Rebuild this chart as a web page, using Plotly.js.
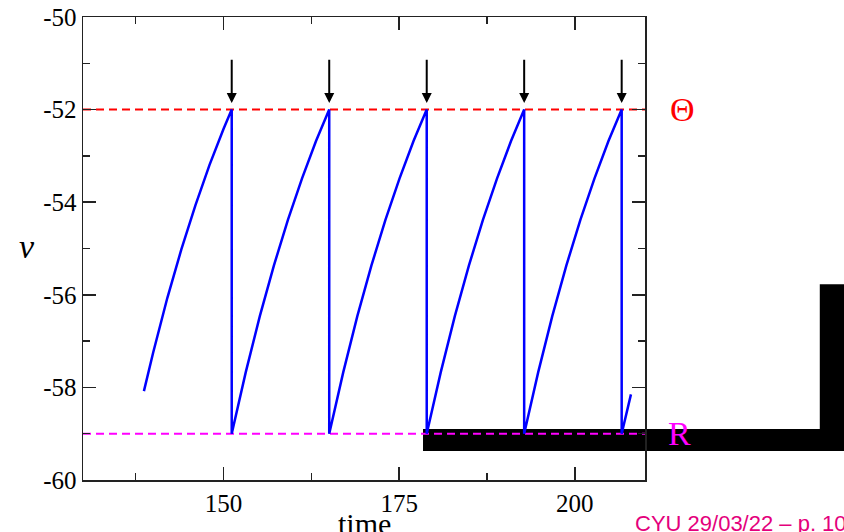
<!DOCTYPE html>
<html>
<head>
<meta charset="utf-8">
<script src="https://cdn.plot.ly/plotly-3.0.1.min.js"></script>
<style>html,body{margin:0;padding:0;background:#fff;}#chart{width:844px;height:532px;}</style>
</head>
<body>
<div id="chart"></div>
<script>
// membrane potential trace
const timeVals = [
  138.67, 140, 142, 144, 146, 148, 150, 151.17,
  151.17, 153.17, 155.17, 157.17, 159.17, 161.17, 163.17, 165.05,
  165.05, 167.05, 169.05, 171.05, 173.05, 175.05, 177.05, 178.93,
  178.93, 180.93, 182.93, 184.93, 186.93, 188.93, 190.93, 192.80,
  192.80, 194.80, 196.80, 198.80, 200.80, 202.80, 204.80, 206.68,
  206.68, 208.0
];
const vVals = [
  -58.08, -57.24, -56.07, -55.02, -54.07, -53.20, -52.42, -52.0,
  -59.0, -57.67, -56.46, -55.37, -54.38, -53.49, -52.68, -52.0,
  -59.0, -57.67, -56.46, -55.37, -54.38, -53.49, -52.68, -52.0,
  -59.0, -57.67, -56.46, -55.37, -54.38, -53.49, -52.68, -52.0,
  -59.0, -57.67, -56.46, -55.37, -54.38, -53.49, -52.68, -52.0,
  -59.0, -58.15
];
const spikeTimes = [151.17, 165.05, 178.93, 192.80, 206.68];
const thresholdV = -52;
const resetV = -59;
const levelX = [130, 210];
const arrowTopV = -50.89;
const arrowTipV = -51.86;
const yTickVals = [-60, -58, -56, -54, -52, -50];
const yTickText = ["-60", "-58", "-56", "-54", "-52", "-50"];
const xTickVals = [150, 175, 200];
const xTickText = ["150", "175", "200"];

const serif = "Liberation Serif";

const traces = [
  {x: levelX, y: [thresholdV, thresholdV], mode: 'lines', line: {color: '#ff0000', width: 2, dash: '8px,5px'}, hoverinfo: 'skip'},
  {x: levelX, y: [resetV, resetV], mode: 'lines', line: {color: '#ff00ff', width: 2, dash: '8px,5px'}, hoverinfo: 'skip'},
  {x: timeVals, y: vVals, mode: 'lines', line: {color: '#0000ff', width: 2.5}}
];

const annotations = spikeTimes.map(t => ({
  x: t, y: arrowTipV, ax: t, ay: arrowTopV, xref: 'x', yref: 'y', axref: 'x', ayref: 'y',
  text: '', showarrow: true, arrowhead: 2, arrowsize: 1, arrowwidth: 2, arrowcolor: '#000', standoff: 0
}));
annotations.push(
  {xref: 'paper', yref: 'y', x: 1.066, y: thresholdV, text: 'Θ', showarrow: false, xanchor: 'center', yanchor: 'middle', font: {family: serif, size: 34, color: '#ff0000'}},
  {xref: 'paper', yref: 'y', x: 1.062, y: resetV, text: 'R', showarrow: false, xanchor: 'center', yanchor: 'middle', font: {family: serif, size: 34, color: '#ff00ff'}},
  {xref: 'paper', yref: 'paper', x: -0.10, y: 0.505, text: '<i>v</i>', showarrow: false, xanchor: 'center', yanchor: 'middle', font: {family: serif, size: 34, color: '#000'}},
  {xref: 'paper', yref: 'paper', x: 0.5, y: -0.053, text: 'time', showarrow: false, xanchor: 'center', yanchor: 'top', font: {family: serif, size: 30, color: '#000'}},
  {xref: 'paper', yref: 'paper', x: 0.9786, y: -0.093, text: 'CYU 29/03/22 – p. 10', showarrow: false, xanchor: 'left', yanchor: 'middle', font: {family: "Liberation Sans", size: 22, color: '#e4007c'}}
);

const layout = {
  width: 844, height: 532,
  margin: {l: 83, r: 199, t: 17, b: 52},
  font: {family: serif, size: 25, color: '#000'},
  paper_bgcolor: '#ffffff',
  plot_bgcolor: 'rgba(0,0,0,0)',
  showlegend: false,
  xaxis: {
    range: [130, 210], tickmode: 'array', tickvals: xTickVals, ticktext: xTickText,
    ticks: 'inside', ticklen: 13, tickwidth: 1.5, tickcolor: '#222',
    showline: true, linecolor: '#222', linewidth: 1.5, mirror: 'ticks',
    showgrid: false, zeroline: false,
    tickfont: {family: serif, size: 25, color: '#000'},
    minor: {tickmode: 'linear', tick0: 0, dtick: 12.5, ticks: 'inside', ticklen: 7, tickwidth: 1.5, tickcolor: '#222', showgrid: false}
  },
  yaxis: {
    range: [-60, -50], tickmode: 'array', tickvals: yTickVals, ticktext: yTickText,
    ticks: 'inside', ticklen: 13, tickwidth: 1.5, tickcolor: '#222',
    showline: true, linecolor: '#222', linewidth: 1.5, mirror: 'ticks',
    showgrid: false, zeroline: false,
    tickfont: {family: serif, size: 25, color: '#000'},
    minor: {tickmode: 'linear', tick0: 0, dtick: 1, ticks: 'inside', ticklen: 7, tickwidth: 1.5, tickcolor: '#222', showgrid: false}
  },
  shapes: [
    {type: 'rect', xref: 'paper', yref: 'paper', x0: 0.605, x1: 1.36, y0: 0.0626, y1: 0.110, fillcolor: '#000', line: {width: 0}, layer: 'below'},
    {type: 'rect', xref: 'paper', yref: 'paper', x0: 1.311, x1: 1.36, y0: 0.0626, y1: 0.423, fillcolor: '#000', line: {width: 0}, layer: 'below'}
  ],
  annotations: annotations
};

Plotly.newPlot('chart', traces, layout, {displayModeBar: false, staticPlot: true});
</script>
</body>
</html>
